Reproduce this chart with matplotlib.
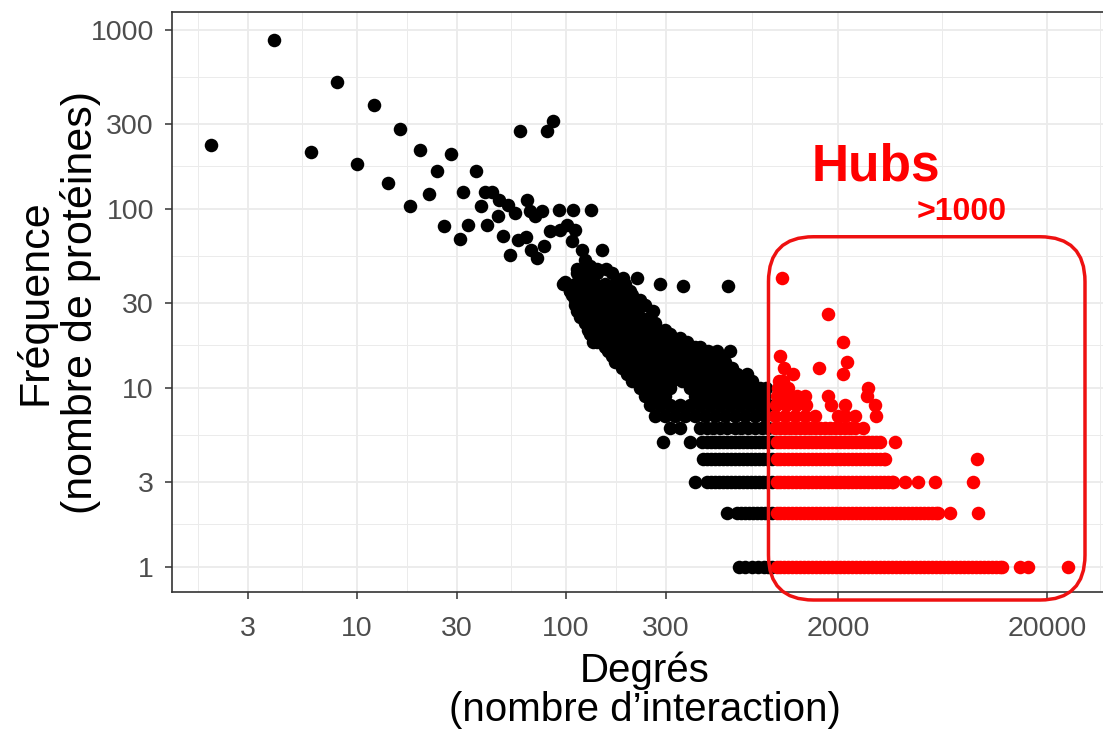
import numpy as np
import matplotlib
matplotlib.use('Agg')
import matplotlib.pyplot as plt
from matplotlib.patches import FancyBboxPatch
from matplotlib.transforms import IdentityTransform

plt.rcParams['font.family'] = ['Liberation Sans', 'DejaVu Sans']

# --- data ----------------------------------------------------------------
# low-frequency rows (1..5 proteins): degrees seen on each row
band_1 = [670, 720, 775, 830, 890, 930, 972, 1016, 1061, 1109, 1159, 1211,
          1266, 1323, 1382, 1444, 1509, 1577, 1648, 1722, 1800, 1881, 1966,
          2054, 2147, 2243, 2344, 2450, 2560, 2675, 2795, 2921, 3053, 3190,
          3334, 3484, 3640, 3804, 3975, 4154, 4341, 4537, 4741, 4954, 5177,
          5410, 5654, 5908, 6174, 6452, 6743, 7046, 7363, 7695, 8041, 8403,
          8781, 9176, 9589, 10020, 10471, 10943, 11435, 11950, 12190,
          14860, 16240, 25240]
band_2 = [589, 658, 688, 719, 751, 785, 820, 857, 896, 930, 972, 1016, 1061,
          1109, 1159, 1211, 1266, 1323, 1382, 1444, 1509, 1577, 1648, 1722,
          1800, 1881, 1966, 2054, 2147, 2243, 2344, 2450, 2560, 2675, 2795,
          2921, 3053, 3190, 3334, 3484, 3640, 3804, 3975, 4154, 4341, 4537,
          4741, 4954, 5177, 5410, 5654, 5908, 6030, 6880, 9350]
band_3 = [414, 473, 494, 516, 539, 563, 588, 615, 643, 672, 702, 734, 767,
          802, 838, 876, 915, 972, 1016, 1061, 1109, 1159, 1211, 1266, 1323,
          1382, 1444, 1509, 1577, 1648, 1722, 1800, 1881, 1966, 2054, 2147,
          2243, 2344, 2450, 2560, 2675, 2795, 2921, 3053, 3190, 3334, 3484,
          3640, 3670, 4190, 4830, 5830, 8860]
band_4 = [452, 472, 494, 516, 539, 563, 588, 615, 643, 672, 702, 734, 767,
          802, 838, 876, 915, 972, 1016, 1061, 1109, 1159, 1211, 1266, 1323,
          1382, 1444, 1509, 1577, 1648, 1722, 1800, 1881, 1966, 2054, 2147,
          2243, 2344, 2450, 2560, 2675, 2795, 2921, 3053, 3190, 3334, 3357,
          9270]
band_5 = [291, 392, 448, 472, 494, 516, 539, 563, 588, 615, 643, 672, 702,
          734, 767, 802, 838, 876, 915, 972, 1016, 1061, 1109, 1159, 1211,
          1266, 1323, 1382, 1444, 1509, 1577, 1648, 1722, 1800, 1881, 1966,
          2054, 2147, 2243, 2344, 2450, 2560, 2675, 2795, 2921, 3053, 3178,
          3750]

# the cloud above: frequency level -> degrees seen on that row
row_freq = [6, 7, 8, 9, 10, 11, 12, 13, 14, 15, 16, 17, 18,
            19, 20, 21, 23, 25, 26, 27, 29, 31, 33, 35, 38, 41, 44, 46]
row_degrees = [
    [315, 351, 438, 470, 505, 546, 590, 640, 690, 745, 800, 870, 926, 1000,
     1060, 1117, 1180, 1247, 1320, 1393, 1470, 1553, 1640, 1734, 1830, 1937,
     2050, 2163, 2290, 2415, 2637],
    [267, 298, 332, 371, 414, 463, 516, 577, 644, 719, 803, 896, 1000, 1117,
     1247, 1393, 1553, 2000, 2163, 2415, 3040],
    [252, 282, 315, 351, 392, 438, 489, 546, 609, 680, 760, 848, 930, 1010,
     1130, 1260, 1400, 1850, 2160, 3000],
    [239, 267, 298, 414, 463, 516, 577, 644, 719, 803, 890, 1020, 1140, 1280,
     1390, 1794, 2740],
    [226, 252, 282, 315, 392, 438, 489, 546, 609, 680, 760, 848, 900, 1030,
     1150, 2786],
    [207, 231, 258, 288, 322, 359, 401, 447, 500, 558, 623, 695, 776, 1040,
     1090],
    [196, 219, 244, 273, 304, 340, 379, 424, 473, 528, 589, 658, 735, 1220,
     2110],
    [185, 207, 231, 258, 288, 321, 359, 401, 447, 500, 558, 623, 1100, 1626],
    [172, 192, 214, 239, 267, 298, 332, 371, 414, 463, 516, 577, 2220],
    [166, 185, 207, 231, 258, 288, 321, 359, 401, 447, 500, 546, 1060],
    [159, 177, 198, 221, 247, 276, 308, 344, 384, 428, 478, 528, 609],
    [154, 172, 192, 214, 239, 267, 298, 332, 371, 414, 438],
    [135, 141, 157, 175, 196, 219, 244, 273, 304, 340, 379, 2120],
    [135, 150, 168, 187, 209, 234, 261, 291, 325, 351],
    [130, 145, 162, 181, 203, 226, 252, 282, 315],
    [127, 142, 159, 177, 198, 221, 247, 276, 298],
    [123, 138, 154, 172, 192, 214, 239, 267],
    [117, 130, 145, 162, 181, 203, 226, 252],
    [1794],
    [113, 126, 141, 157, 175, 196, 219, 261],
    [110, 123, 138, 154, 172, 192, 214, 239],
    [110, 123, 138, 154, 172, 192, 214, 226],
    [107, 119, 133, 149, 166, 185, 207],
    [104, 117, 130, 145, 162, 181, 203],
    [97, 110, 123, 138, 154, 172, 192, 282],
    [116, 130, 188, 218, 1080],
    [113, 126, 140, 165],
    [113, 126, 140, 155],
]

# isolated points (low degrees / high frequencies)
scatter_deg = [2, 4, 6, 8, 10, 12, 14, 16, 18, 20, 22, 24, 26, 28, 31, 32,
               34, 37, 39, 41, 42, 44, 47, 48, 50, 53, 54, 57, 59, 60, 64, 65,
               67, 68, 71, 73, 77, 78, 81, 84, 87, 93, 94, 99, 101, 104, 107,
               108, 110, 112, 119, 123, 130, 132, 148, 362, 594]
scatter_freq = [227, 880, 208, 510, 178, 380, 140, 280, 104, 214, 122, 163,
                80, 204, 68, 125, 81, 163, 104, 125, 81, 125, 92, 112, 71, 105,
                55, 95, 67, 274, 70, 112, 97, 59, 91, 53, 97, 62, 274, 75, 311,
                99, 76, 39, 81, 35, 66, 99, 76, 34, 59, 52, 48, 99, 59, 37, 37]

hub_cut = 1000
x_ticks = [3, 10, 30, 100, 300, 2000, 20000]
y_ticks = [1, 3, 10, 30, 100, 300, 1000]
x_minor = [1.73, 5.48, 17.3, 54.8, 173, 775, 6325, 35900]
y_minor = [1.73, 5.48, 17.3, 54.8, 173, 548]
box_deg = (930, 30400)
box_freq = (0.654, 70)

# --- build point table ----------------------------------------------------
deg, freq = [], []
for f, ds in zip([1, 2, 3, 4, 5] + row_freq,
                 [band_1, band_2, band_3, band_4, band_5] + row_degrees):
    deg += ds
    freq += [f] * len(ds)
deg += scatter_deg
freq += scatter_freq
deg = np.array(deg, dtype=float)
freq = np.array(freq, dtype=float)
hub = deg >= hub_cut

W, H = 1103, 734
fig = plt.figure(figsize=(W / 100, H / 100), dpi=100)
ax = fig.add_axes([172 / W, 142 / H, 931 / W, 580 / H])

ax.scatter(deg[~hub], freq[~hub], s=95, c='black', linewidths=0, zorder=3)
ax.scatter(deg[hub], freq[hub], s=95, c='#FF0000', linewidths=0, zorder=4)

ax.set_xscale('log')
ax.set_yscale('log')
ax.set_xlim(1.302, 37070)
ax.set_ylim(0.725, 1261)

ax.set_xticks(x_ticks)
ax.set_xticklabels([str(v) for v in x_ticks])
ax.set_yticks(y_ticks)
ax.set_yticklabels([str(v) for v in y_ticks])
ax.set_xticks(x_minor, minor=True)
ax.set_yticks(y_minor, minor=True)
ax.xaxis.set_minor_formatter(matplotlib.ticker.NullFormatter())
ax.yaxis.set_minor_formatter(matplotlib.ticker.NullFormatter())

ax.grid(which='major', color='#EBEBEB', linewidth=1.3)
ax.grid(which='minor', color='#EBEBEB', linewidth=0.7)
ax.set_axisbelow(True)

for side in ['left', 'bottom', 'top']:
    ax.spines[side].set_color('#333333')
    ax.spines[side].set_linewidth(1.2)
ax.spines['right'].set_visible(False)

ax.tick_params(which='major', length=5, width=1.1, color='#333333',
               labelsize=20.5, labelcolor='#4D4D4D')
ax.tick_params(axis='x', which='major', pad=12)
ax.tick_params(axis='y', which='major', pad=8)
ax.tick_params(which='minor', length=0)

ax.set_xlabel('Degrés\n(nombre d\u2019interaction)', fontsize=29, linespacing=1.05)
ax.xaxis.set_label_coords(0.508, -0.169)
ax.xaxis.label.set_va('center')
ax.set_ylabel('Fréquence\n(nombre de protéines)', fontsize=31, linespacing=1.15)
ax.yaxis.set_label_coords(-0.123, 0.5)
ax.yaxis.label.set_va('center')

# hub annotation
ax.text(3040, 145, 'Hubs', color='#FF0000', fontsize=37, fontweight='bold',
        ha='center', va='baseline', clip_on=False)
ax.text(7850, 87, '>1000', color='#FF0000', fontsize=23, fontweight='bold',
        ha='center', va='baseline', clip_on=False)

(x0, y0), (x1, y1) = ax.transData.transform(
    [(box_deg[0], box_freq[0]), (box_deg[1], box_freq[1])])
box = FancyBboxPatch((x0, y0), x1 - x0, y1 - y0,
                     boxstyle='round,pad=0,rounding_size=45',
                     transform=IdentityTransform(), fill=False,
                     edgecolor='#EE1111', linewidth=2.5, zorder=10)
fig.add_artist(box)

fig.savefig('out.png', dpi=100, facecolor='white')
